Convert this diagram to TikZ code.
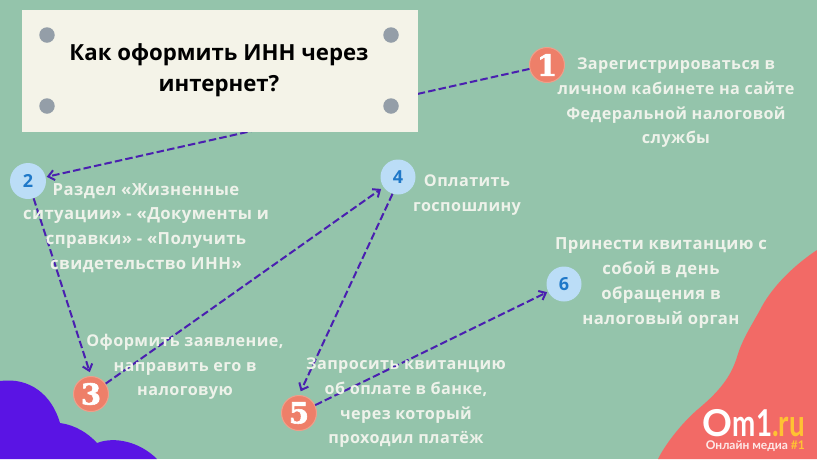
\documentclass[tikz,border=0pt]{standalone}
\usepackage{fontspec}
\usetikzlibrary{arrows.meta}
\setmainfont{Open Sans}
\newfontfamily\bodyfont[LetterSpace=2.5,BoldFont={Open Sans Bold}]{Open Sans}
\newfontfamily\numfont[FakeBold=2]{DejaVu Serif}
\newfontfamily\logofont{Lato}
\definecolor{bg}{HTML}{94C4AB}
\definecolor{paper}{HTML}{F4F3E8}
\definecolor{pin}{HTML}{949EA8}
\definecolor{arrowc}{HTML}{4A1FB0}
\definecolor{salmon}{HTML}{EE7F69}
\definecolor{salmonb}{HTML}{EDA08C}
\definecolor{skyc}{HTML}{BBDDF7}
\definecolor{bluenum}{HTML}{1F78C8}
\definecolor{cloudc}{HTML}{5A14E4}
\definecolor{redc}{HTML}{F26A66}
\definecolor{txt}{HTML}{EEF2EA}
\definecolor{gold}{HTML}{FFC233}
\tikzset{
  conn/.style={draw=arrowc,line width=2pt,dash pattern=on 7.5pt off 3.2pt,-{Straight Barb[length=6pt,width=10pt,line width=2pt]}},
  redcirc/.style={circle,fill=salmon,draw=salmonb,line width=1pt,minimum size=35pt,inner sep=0pt,text=white,font=\numfont\bfseries\fontsize{29}{29}\selectfont},
  bluecirc/.style={circle,fill=skyc,minimum size=36pt,inner sep=0pt,text=bluenum,font=\bfseries\fontsize{18}{18}\selectfont},
  pinn/.style={circle,fill=pin,minimum size=15.5pt,inner sep=0pt},
  body/.style={text=txt,align=center,inner sep=0pt,font=\bodyfont\bfseries\fontsize{16.2}{24.7}\selectfont},
  bodywide/.style={body,font=\bodyfont\bfseries\fontsize{16.7}{24.7}\selectfont},
}
\begin{document}
\begin{tikzpicture}[x=1pt,y=-1pt]
\useasboundingbox (0,0) rectangle (817,459);
\fill[bg] (0,0) rectangle (817,459);
% background shapes
\fill[cloudc] (0,381) .. controls (30,377) and (52,395) .. (60,423)
  .. controls (75,425) and (88,433) .. (97,443)
  .. controls (115,436) and (140,442) .. (157,459) -- (0,459) -- cycle;
\fill[redc] (817,250) .. controls (790,268) and (770,290) .. (760,310)
  .. controls (750,328) and (742,340) .. (737,357)
  .. controls (730,380) and (715,395) .. (697,410)
  .. controls (680,425) and (665,445) .. (658,459) -- (817,459) -- cycle;
% circles
\node[redcirc] (n1) at (547,65) {1};
\node[bluecirc] (n2) at (28,181) {2};
\node[redcirc] (n3) at (91,394) {3};
\node[bluecirc,minimum size=35pt] (n4) at (398,177) {4};
\node[redcirc] (n5) at (299,413) {5};
\node[bluecirc,minimum size=35pt] (n6) at (564,284) {6};
% connectors
\draw[conn,shorten >=1pt] (n1) -- (n2);
\draw[conn,shorten >=4pt] (n2.-72) -- (n3.north);
\draw[conn,shorten >=3pt] (n3) -- (n4);
\draw[conn,shorten >=4pt] (n4.-108) -- (n5.north);
\draw[conn,shorten >=1pt] (n5) -- (n6);
% title card
\node[fill=paper,minimum width=396pt,minimum height=122pt,inner sep=0pt] (title) at (220,71) {};
\node[align=center,inner sep=0pt,text=black,font=\bfseries\fontsize{22.2}{31}\selectfont] (ttext) at (219,70) {Как оформить ИНН через\\интернет?};
\node[pinn] (p1) at (47,35) {};
\node[pinn] (p2) at (391,35) {};
\node[pinn] (p3) at (47,106) {};
\node[pinn] (p4) at (391,106) {};
% labels
\node[body] (t1) at (676,103) {Зарегистрироваться в\\личном кабинете на сайте\\Федеральной налоговой\\службы};
\node[bodywide] (t2) at (146,228) {Раздел «Жизненные\\ситуации» - «Документы и\\справки» - «Получить\\свидетельство ИНН»};
\node[body] (t3) at (185,367) {Оформить заявление,\\направить его в\\налоговую};
\node[body] (t4) at (467,195) {Оплатить\\госпошлину};
\node[body] (t5) at (406,403) {Запросить квитанцию\\об оплате в банке,\\через который\\проходил платёж};
\node[bodywide] (t6) at (661,283) {Принести квитанцию с\\собой в день\\обращения в\\налоговый орган};
% logo
\node[text=white,inner sep=0pt,text depth=0pt,anchor=base east,font=\logofont\bfseries\fontsize{37}{37}\selectfont] (logo) at (805,436) {O\scalebox{.75}[1]{m1\textcolor{gold}{.ru}}};
\node[text=white!85!redc,inner sep=0pt,anchor=base east,font=\logofont\bfseries\fontsize{12}{12}\selectfont] (tag) at (805,449) {Онлайн медиа \textcolor{gold}{\#1}};
\end{tikzpicture}
\end{document}
